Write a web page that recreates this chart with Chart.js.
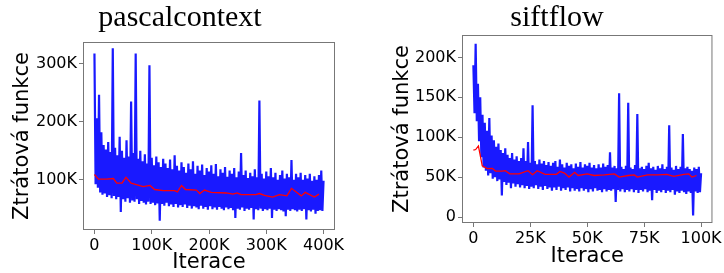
<!DOCTYPE html>
<html lang="cs">
<head>
<meta charset="UTF-8">
<title>Ztrátová funkce</title>
<style>
  html, body { margin: 0; padding: 0; background: #fff; width: 724px; height: 273px; overflow: hidden; }
  canvas { position: absolute; top: 0; }
  #pc { left: -2px; }
  #sf { left: 390px; }
</style>
<script src="https://cdn.jsdelivr.net/npm/chart.js@4/dist/chart.umd.min.js"></script>
</head>
<body>
<canvas id="pc" width="364" height="273"></canvas>
<canvas id="sf" width="334" height="273"></canvas>
<script>
// hodnoty v tisících (K)

// pascalcontext – vzorek každé 2K iterace
const pcStep = 2;
const pcLoss = [
  318, 92, 206, 86, 247, 78, 182, 74, 160, 76,
  152, 70, 165, 73, 148, 68, 327, 72, 155, 66,
  142, 70, 174, 44, 150, 66, 138, 62, 168, 68,
  140, 60, 235, 64, 146, 62, 318, 66, 136, 58,
  150, 63, 132, 60, 144, 57, 128, 62, 298, 58,
  138, 60, 125, 56, 140, 59, 130, 29, 122, 58,
  136, 55, 128, 60, 120, 54, 135, 57, 118, 53,
  142, 58, 124, 52, 116, 56, 130, 53, 122, 57,
  112, 51, 128, 55, 118, 50, 132, 54, 110, 52,
  124, 49, 116, 55, 126, 50, 108, 53, 120, 48,
  114, 54, 125, 49, 110, 52, 127, 48, 106, 53,
  118, 50, 112, 47, 122, 52, 105, 49, 116, 51,
  110, 47, 120, 34, 104, 50, 114, 48, 146, 52,
  108, 46, 116, 50, 103, 48, 112, 51, 106, 31,
  118, 49, 104, 47, 237, 50, 110, 46, 102, 49,
  114, 47, 106, 50, 120, 34, 104, 48, 112, 46,
  100, 49, 108, 47, 116, 45, 102, 37, 110, 48,
  104, 46, 134, 49, 100, 47, 110, 45, 104, 48,
  112, 46, 100, 49, 108, 31, 102, 47, 110, 45,
  98, 48, 106, 41, 100, 46, 108, 47, 116, 46,
  98
];
const pcAvgIter = [0, 7, 21, 33, 39, 48, 55, 64, 85, 97, 105, 120, 140, 145, 152, 159, 178, 184, 192, 204,
  230, 242, 249, 256, 282, 288, 297, 311, 323, 336, 344, 361, 368, 384, 392];
const pcAvg = [109, 101, 101, 102, 94, 94, 104, 94, 88, 90, 83, 81, 81, 79, 90, 83, 82, 76, 82, 78,
  77, 75, 77, 74, 74, 76, 73, 70, 74, 72, 85, 72, 78, 70, 75];
const pcXTicks = [0, 100, 200, 300, 400];
const pcYTicks = [100, 200, 300];

// siftflow – vzorek každých 500 iterací
const sfStep = 0.5;
const sfLoss = [
  190, 130, 217, 120, 167, 95, 150, 75, 128, 62,
  118, 58, 108, 52, 124, 55, 102, 48, 96, 50,
  88, 45, 92, 47, 84, 27, 80, 44, 86, 40,
  78, 43, 74, 36, 80, 42, 72, 38, 76, 41,
  70, 37, 74, 40, 86, 36, 70, 39, 94, 35,
  68, 38, 140, 36, 70, 40, 66, 35, 72, 38,
  67, 34, 70, 39, 65, 35, 69, 37, 64, 33,
  68, 37, 70, 34, 63, 38, 72, 33, 66, 36,
  62, 34, 68, 37, 64, 32, 66, 36, 61, 33,
  67, 35, 63, 32, 69, 36, 62, 33, 66, 35,
  64, 31, 68, 35, 62, 32, 65, 36, 61, 33,
  66, 34, 62, 31, 67, 35, 63, 32, 65, 34,
  81, 33, 62, 35, 64, 19, 61, 34, 155, 32,
  63, 35, 60, 31, 64, 34, 143, 32, 62, 35,
  60, 31, 65, 34, 129, 30, 61, 34, 63, 32,
  60, 35, 64, 31, 68, 33, 61, 21, 63, 34,
  59, 30, 64, 33, 61, 31, 66, 34, 60, 30,
  63, 33, 115, 31, 62, 34, 59, 28, 64, 32,
  60, 30, 63, 33, 104, 31, 61, 29, 63, 32,
  60, 30, 58, 2, 62, 32, 60, 30, 63, 31,
  55
];
const sfAvgIter = [0, 1, 2.2, 3.9, 6.1, 8.3, 9.7, 12.6, 14, 16, 20, 24, 26, 28, 31.5, 36.5, 38, 40, 42, 44.5,
  46, 50, 53, 57.5, 62, 64, 68, 70.7, 72, 76.5, 81, 85, 88, 92.5, 94.6, 96, 98];
const sfAvg = [83.7, 84.5, 89, 64, 60.7, 61, 57.5, 57.5, 58, 54, 54, 58, 53, 58, 53.5, 53.5, 57, 55, 50, 56,
  52, 54, 52, 52.7, 54, 50, 52, 52.7, 50, 52.7, 52.7, 53.5, 51, 53.5, 54, 50, 52];
const sfXTicks = [0, 25, 50, 75, 100];
const sfYTicks = [0, 50, 100, 150, 200];

const fmtK = v => v === 0 ? '0' : v + 'K';
const tickFont = { family: 'DejaVu Sans', size: 16 };
const labelFont = { family: 'DejaVu Sans', size: 21, lineHeight: 1 };

// rámeček kolem grafu
const frame = {
  id: 'frame',
  afterDraw(chart) {
    const { ctx, chartArea: a } = chart;
    ctx.save();
    ctx.strokeStyle = '#777';
    ctx.lineWidth = 1;
    ctx.strokeRect(a.left + 0.5, a.top + 0.5, a.width - 1, a.height - 1);
    ctx.restore();
  }
};

function lossChart(id, o) {
  const raw = o.loss.map((v, i) => ({ x: i * o.step, y: v }));
  const avg = o.avgIter.map((x, i) => ({ x: x, y: o.avg[i] }));
  return new Chart(document.getElementById(id), {
    type: 'line',
    data: {
      datasets: [
        { data: raw, order: 2, borderColor: 'rgba(0,0,255,0.9)', borderWidth: 2.2, pointRadius: 0 },
        { data: avg, order: 1, borderColor: '#ff0000', borderWidth: 1.3, pointRadius: 0 }
      ]
    },
    options: {
      responsive: false,
      animation: false,
      events: [],
      layout: { padding: 0 },
      plugins: {
        legend: { display: false },
        tooltip: { enabled: false },
        title: {
          display: true, text: o.title, color: '#000',
          font: { family: 'Liberation Serif', size: 30, weight: 'normal', lineHeight: 1 },
          padding: { top: 3, bottom: o.titleGap }
        }
      },
      scales: {
        x: {
          type: 'linear', min: o.xMin, max: o.xMax,
          afterFit: s => { s.height = o.xAxisH; },
          afterBuildTicks: s => { s.ticks = o.xTicks.map(v => ({ value: v })); },
          ticks: { callback: fmtK, color: '#000', font: tickFont, padding: 2, maxRotation: 0, autoSkip: false },
          grid: { display: true, drawOnChartArea: false, tickLength: 4, color: '#777' },
          border: { display: false },
          title: { display: true, text: 'Iterace', color: '#000', font: labelFont, padding: { top: 0, bottom: o.xTitlePad } }
        },
        y: {
          min: o.yMin, max: o.yMax,
          afterFit: s => { s.width = o.yAxisW; },
          afterBuildTicks: s => { s.ticks = o.yTicks.map(v => ({ value: v })); },
          ticks: { callback: fmtK, color: '#000', font: tickFont, padding: 2, autoSkip: false },
          grid: { display: true, drawOnChartArea: false, tickLength: 4, color: '#777' },
          border: { display: false },
          title: { display: true, text: 'Ztrátová funkce', color: '#000', font: labelFont, padding: { top: o.yTitlePad, bottom: 0 } }
        },
        // prázdné místo vpravo, aby titulek zůstal na středu plátna
        pad: {
          type: 'linear', position: 'right', display: true,
          afterFit: s => { s.width = o.padRight; },
          ticks: { display: false },
          grid: { display: false },
          border: { display: false }
        }
      }
    },
    plugins: [frame]
  });
}

lossChart('pc', {
  title: 'pascalcontext', loss: pcLoss, step: pcStep, avgIter: pcAvgIter, avg: pcAvg,
  xTicks: pcXTicks, yTicks: pcYTicks, xMin: -20, xMax: 420, yMin: 13, yMax: 338,
  padRight: 27, titleGap: 9, xAxisH: 43, yAxisW: 85, xTitlePad: 0, yTitlePad: 14
});

lossChart('sf', {
  title: 'siftflow', loss: sfLoss, step: sfStep, avgIter: sfAvgIter, avg: sfAvg,
  xTicks: sfXTicks, yTicks: sfYTicks, xMin: -5, xMax: 105, yMin: -7.5, yMax: 228,
  padRight: 9, titleGap: 2, xAxisH: 50, yAxisW: 72, xTitlePad: 5.7, yTitlePad: 2.5
});
</script>
</body>
</html>
